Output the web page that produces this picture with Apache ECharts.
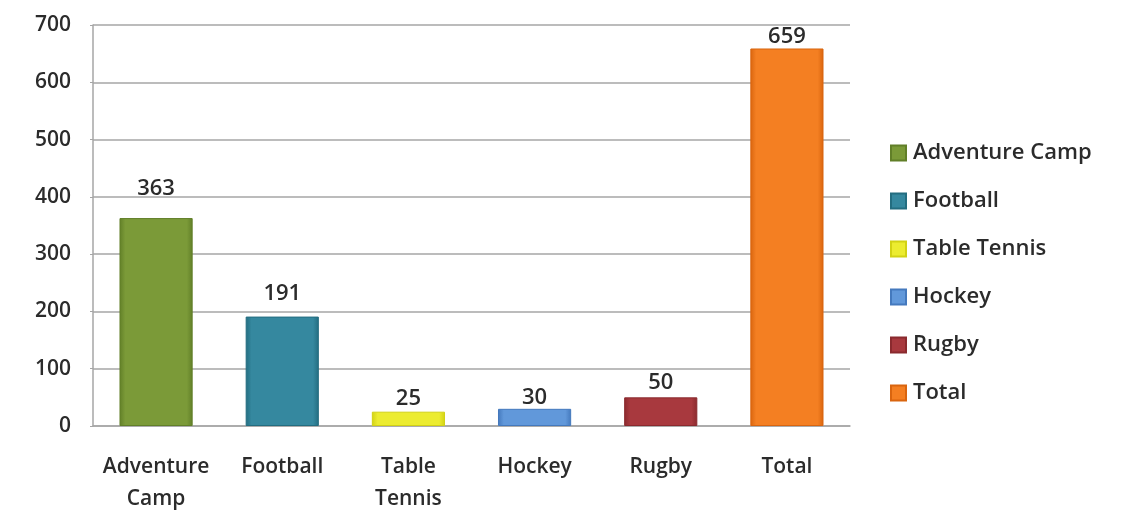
<!DOCTYPE html>
<html><head><meta charset="utf-8">
<script src="https://cdn.jsdelivr.net/npm/echarts@6/dist/echarts.min.js"></script>
<style>html,body{margin:0;padding:0;background:#fff}#c{width:1122px;height:514px}</style>
</head><body><div id="c"></div>
<script>
const categories = ["Adventure\nCamp", "Football", "Table\nTennis", "Hockey", "Rugby", "Total"];
const seriesNames = ["Adventure Camp", "Football", "Table Tennis", "Hockey", "Rugby", "Total"];
const values = [363, 191, 25, 30, 50, 659];
const yTicks = [0, 100, 200, 300, 400, 500, 600, 700];
const colors = [
  ["#617f28", "#7b9a38", "#617f28"],
  ["#236d80", "#35889f", "#236d80"],
  ["#d2d214", "#ecec30", "#d2d214"],
  ["#4479bd", "#6198da", "#4479bd"],
  ["#8a2a2e", "#a8393e", "#8a2a2e"],
  ["#d9650f", "#f47f22", "#d9650f"]
];
const labelGaps = [18, 12, 2, 0, 4, 1];
const font = "'Open Sans', 'Liberation Sans', sans-serif";
const txt = '#2b2b2b';
function grad(c){
  return {type:'linear',x:0,y:0,x2:1,y2:0,colorStops:[
    {offset:0,color:c[0]},{offset:0.08,color:c[1]},{offset:0.92,color:c[1]},{offset:1,color:c[2]}]};
}
const series = seriesNames.map((name,i)=>({
  name, type:'bar', barWidth:'58%', barGap:'-100%',
  data: values.map((v,j)=> j===i ? v : null),
  itemStyle:{color:grad(colors[i]), borderColor:colors[i][0], borderWidth:1},
  label:{show:true, position:'top', distance:labelGaps[i], color:txt, fontSize:22, fontWeight:600, fontFamily:font}
}));
const chart = echarts.init(document.getElementById('c'));
chart.setOption({
  animation:false,
  color: colors.map(c=>c[1]),
  grid:{left:93, right:272, top:25, bottom:88, outerBoundsMode:'none', containLabel:false},
  legend:{
    orient:'vertical', left:885, top:137, itemGap:26, itemWidth:15, itemHeight:15,
    icon:'rect',
    textStyle:{fontSize:22, fontWeight:600, color:txt, fontFamily:font, padding:[0,0,0,2]},
    data: seriesNames
  },
  xAxis:{
    type:'category', data:categories,
    axisLine:{lineStyle:{color:'#a6a6a6', width:1.5}},
    axisTick:{show:false},
    axisLabel:{interval:0, hideOverlap:false, color:txt, fontSize:21, fontWeight:600, fontFamily:font, margin:25, lineHeight:32}
  },
  yAxis:{
    type:'value', min:yTicks[0], max:yTicks[yTicks.length-1], interval:100,
    axisLine:{show:true, lineStyle:{color:'#a6a6a6', width:1.5}},
    axisTick:{show:true, length:3, lineStyle:{color:'#a6a6a6'}},
    splitLine:{lineStyle:{color:'#a6a6a6', width:1.5}},
    axisLabel:{color:txt, fontSize:21, fontWeight:600, fontFamily:font, margin:22}
  },
  series
});
</script></body></html>
